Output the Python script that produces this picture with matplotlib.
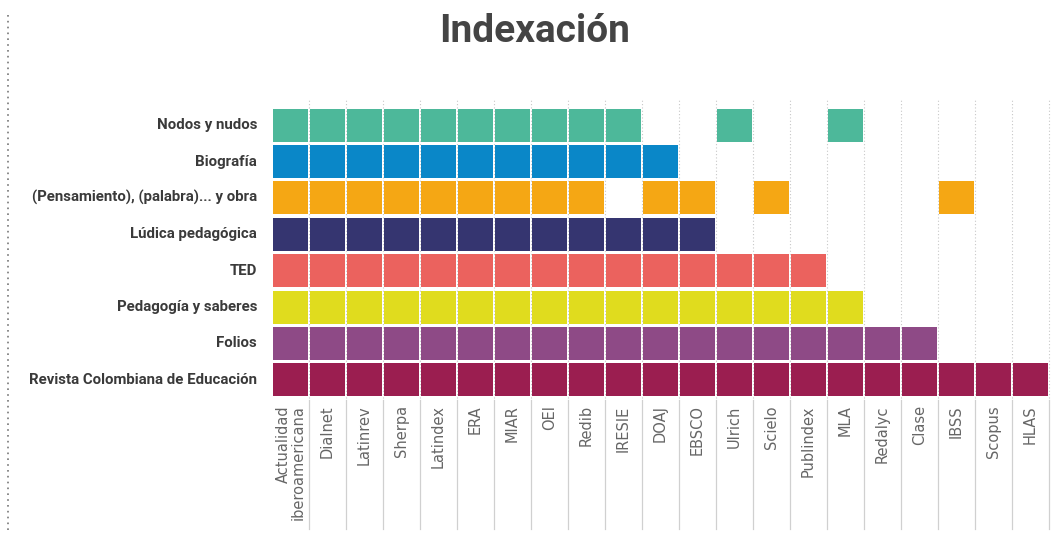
import matplotlib.pyplot as plt
from matplotlib.lines import Line2D

indexes = ["Actualidad\niberoamericana", "Dialnet", "Latinrev", "Sherpa", "Latindex",
           "ERA", "MIAR", "OEI", "Redib", "IRESIE", "DOAJ", "EBSCO", "Ulrich",
           "Scielo", "Publindex", "MLA", "Redalyc", "Clase", "IBSS", "Scopus", "HLAS"]
names = [i.replace("\n", " ") for i in indexes]

journals = ["Nodos y nudos", "Biografía", "(Pensamiento), (palabra)... y obra",
            "Lúdica pedagógica", "TED", "Pedagogía y saberes", "Folios",
            "Revista Colombiana de Educación"]
colors = ["#4db89a", "#0a87c8", "#f5a714", "#353570", "#eb625e", "#e0dc1e",
          "#8e4a86", "#9b1e50"]

nodos = names[:10] + ["Ulrich", "MLA"]
biografia = names[:11]
pensamiento = names[:9] + ["DOAJ", "EBSCO", "Scielo", "IBSS"]
ludica = names[:12]
ted = names[:15]
pedagogia = names[:16]
folios = names[:18]
rce = names[:21]
membership = [nodos, biografia, pensamiento, ludica, ted, pedagogia, folios, rce]

fig = plt.figure(figsize=(10.58, 5.38), dpi=100)
ax = fig.add_axes([272/1058, 1-398/538, 777/1058, 291/538])
n_rows = len(journals)

for r, (j, members, c) in enumerate(zip(journals, membership, colors)):
    y = n_rows - 1 - r
    xs = [names.index(m) for m in members]
    ax.bar(xs, 0.91, width=0.92, bottom=y-0.455, color=c, linewidth=0, zorder=3)
    ax.text(-0.9, y, j, ha="right", va="center", fontsize=10.8, fontweight="bold",
            color="#3a3a3a", family="Roboto")

# column separators: dotted through grid, solid under labels
for b in range(1, len(names) + 1):
    x = b - 0.5
    ax.plot([x, x], [-0.5, 7.7], ls=(0, (1, 2)), color="#c8c8c8", lw=0.8,
            zorder=1, clip_on=False)
    ax.plot([x, x], [-0.55, -4.1], color="#d0d0d0", lw=0.9, clip_on=False)

for i, lab in enumerate(indexes):
    ax.text(i, -0.7, lab, rotation=90, ha="center", va="top", fontsize=10.5,
            color="#666666", multialignment="right", linespacing=1.0,
            family=["Liberation Sans Narrow", "DejaVu Sans"])

ax.set_xlim(-0.5, len(names) - 0.5)
ax.set_ylim(-0.5, n_rows - 0.5)
ax.axis("off")

fig.add_artist(Line2D([8/1058, 8/1058], [1-15/538, 1-532/538], ls=(0, (1, 2.5)),
                      color="#777777", lw=1.2))
fig.text(535/1058, 1-32/538, "Indexación", ha="center", va="center", fontsize=28,
         fontweight="bold", color="#444444", family="Roboto")

fig.savefig("out.png", dpi=100)
